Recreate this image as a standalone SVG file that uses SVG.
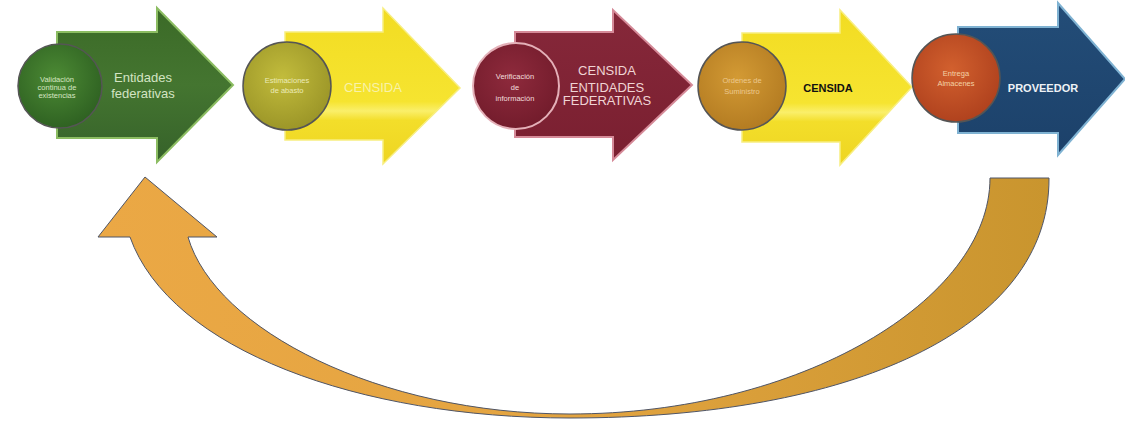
<svg xmlns="http://www.w3.org/2000/svg" width="1125" height="421" viewBox="0 0 1125 421">
<defs>
<linearGradient id="gGreen" x1="0" y1="0" x2="0" y2="1"><stop offset="0" stop-color="#3b6a27"/><stop offset="0.5" stop-color="#447530"/><stop offset="1" stop-color="#36622a"/></linearGradient>
<linearGradient id="gYellow" x1="0" y1="0" x2="0" y2="1"><stop offset="0" stop-color="#f2dc22"/><stop offset="0.6" stop-color="#f6e430"/><stop offset="0.66" stop-color="#faef6a"/><stop offset="0.72" stop-color="#f3de2a"/><stop offset="1" stop-color="#eed522"/></linearGradient>
<linearGradient id="gMaroon" x1="0" y1="0" x2="0" y2="1"><stop offset="0" stop-color="#86283a"/><stop offset="1" stop-color="#7a1f30"/></linearGradient>
<linearGradient id="gBlue" x1="0" y1="0" x2="0" y2="1"><stop offset="0" stop-color="#234d78"/><stop offset="1" stop-color="#1c416a"/></linearGradient>
<radialGradient id="cGreen" cx="0.45" cy="0.4" r="0.6"><stop offset="0" stop-color="#4c8a34"/><stop offset="1" stop-color="#2f6222"/></radialGradient>
<radialGradient id="cOlive" cx="0.45" cy="0.4" r="0.6"><stop offset="0" stop-color="#c2bc3c"/><stop offset="1" stop-color="#9c9628"/></radialGradient>
<radialGradient id="cMaroon" cx="0.45" cy="0.4" r="0.6"><stop offset="0" stop-color="#8e2a3c"/><stop offset="1" stop-color="#731c2c"/></radialGradient>
<radialGradient id="cGold" cx="0.45" cy="0.4" r="0.6"><stop offset="0" stop-color="#d39a34"/><stop offset="1" stop-color="#b47c22"/></radialGradient>
<radialGradient id="cRed" cx="0.45" cy="0.4" r="0.6"><stop offset="0" stop-color="#d2602e"/><stop offset="1" stop-color="#b0421e"/></radialGradient>
<linearGradient id="gCurve" x1="0" y1="0" x2="1" y2="0"><stop offset="0" stop-color="#eba845"/><stop offset="0.5" stop-color="#e3a440"/><stop offset="1" stop-color="#c9952e"/></linearGradient>
</defs>
<style>
.sm{font-family:"Liberation Sans",Arial,sans-serif;font-size:7.5px;text-anchor:middle}
.lg{font-family:"Liberation Sans",Arial,sans-serif;font-size:13px;text-anchor:middle}
.bd{font-family:"Liberation Sans",Arial,sans-serif;font-size:11px;font-weight:bold;text-anchor:middle}
.circ{stroke:#555;stroke-width:1.5}
</style>
<rect width="1125" height="421" fill="#ffffff"/>

<g id="connectors">
<path d="M1049,178 C1050,330 850,418 570,418 C360,418 170,350 130,237 L98,237 L145,177 L217,237 L188,237 C215,330 380,414 570,414 C800,414 990,300 990,178 Z" fill="url(#gCurve)" stroke="#4f5566" stroke-width="1"/>
</g>

<g id="step1">
<path d="M57,32 H157 V8 L233,85 L157,162 V138 H57 Z" fill="url(#gGreen)" stroke="#8cbd62" stroke-width="2"/>
<circle cx="60" cy="86" r="42" fill="url(#cGreen)" class="circ"/>
<text class="sm" fill="#d6e6c2"><tspan x="57" y="82">Validación</tspan><tspan x="57" y="90">continua de</tspan><tspan x="57" y="98">existencias</tspan></text>
<text class="lg" fill="#d3e4c3"><tspan x="143" y="82">Entidades</tspan><tspan x="143" y="98">federativas</tspan></text>
</g>

<g id="step2">
<path d="M285,32 H383 V8 L460,88 L383,164 V140 H285 Z" fill="url(#gYellow)" stroke="#f8ee80" stroke-width="1.5"/>
<circle cx="287" cy="86" r="44" fill="url(#cOlive)" class="circ"/>
<text class="sm" fill="#ecebb8"><tspan x="287" y="83">Estimaciones</tspan><tspan x="287" y="93">de abasto</tspan></text>
<text class="lg" fill="#f8f2a8" font-size="11" x="373" y="92">CENSIDA</text>
</g>

<g id="step3">
<path d="M515,32 H613 V10 L692,85 L613,160 V137 H515 Z" fill="url(#gMaroon)" stroke="#d58a98" stroke-width="2"/>
<circle cx="516" cy="86" r="43" fill="url(#cMaroon)" stroke="#e4b0b8" stroke-width="2"/>
<text class="sm" fill="#f2dede"><tspan x="515" y="79">Verificación</tspan><tspan x="515" y="90">de</tspan><tspan x="515" y="101">información</tspan></text>
<text class="lg" fill="#f0d4d4" font-size="11"><tspan x="607" y="75">CENSIDA</tspan><tspan x="607" y="92">ENTIDADES</tspan><tspan x="607" y="105">FEDERATIVAS</tspan></text>
</g>

<g id="step4">
<path d="M742,33 H840 V10 L912,87 L840,165 V142 H742 Z" fill="url(#gYellow)" stroke="#f8ee80" stroke-width="1.5"/>
<circle cx="742" cy="86" r="44" fill="url(#cGold)" class="circ"/>
<text class="sm" fill="#ecc88e"><tspan x="742" y="83">Ordenes de</tspan><tspan x="742" y="94">Suministro</tspan></text>
<text class="bd" fill="#111111" x="828" y="92">CENSIDA</text>
</g>

<g id="step5">
<path d="M958,27 H1058 V3 L1125,79 L1058,155 V133 H958 Z" fill="url(#gBlue)" stroke="#7fb2d2" stroke-width="2"/>
<circle cx="956" cy="78" r="44" fill="url(#cRed)" class="circ"/>
<text class="sm" fill="#f4d2a6"><tspan x="956" y="76">Entrega</tspan><tspan x="956" y="86">Almacenes</tspan></text>
<text class="bd" fill="#eef2f6" x="1043" y="92">PROVEEDOR</text>
</g>
</svg>
